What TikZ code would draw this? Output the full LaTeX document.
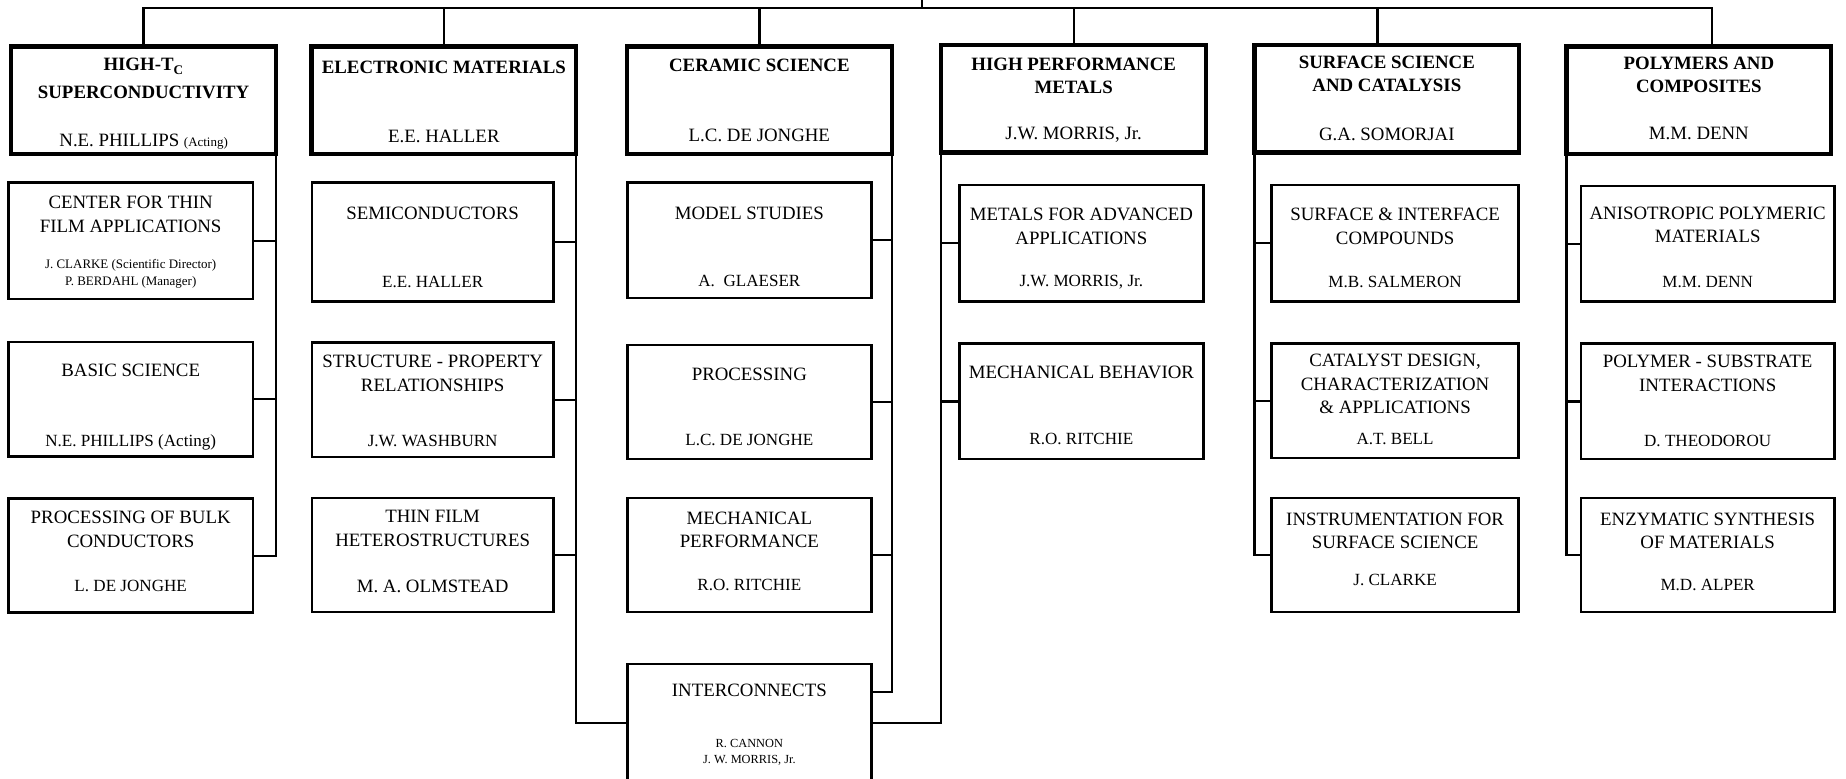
\documentclass[tikz,border=0pt]{standalone}
\usepackage{fontspec}
\setmainfont{Liberation Serif}
\usetikzlibrary{positioning}

\begin{document}
\begin{tikzpicture}[
      x=1pt, y=-1pt,
      headbox/.style={
        draw, line width=3.6pt, inner sep=0pt, outer sep=0pt,
        minimum width=225pt, minimum height=91pt
      },
      subbox/.style={
        draw, line width=2.2pt, inner sep=0pt, outer sep=0pt,
        minimum height=97pt
      },
      link/.style={line width=2pt},
      headtitle/.style={font=\bfseries\fontsize{16}{20}\selectfont, align=center, inner sep=0pt},
      headname/.style={font=\fontsize{16}{20}\selectfont, align=center, inner sep=0pt},
      subtitle/.style={font=\fontsize{16}{20}\selectfont, align=center, inner sep=0pt},
      subname/.style={font=\fontsize{14.5}{17}\selectfont, align=center, inner sep=0pt},
      smallname/.style={font=\fontsize{11}{14}\selectfont, align=center, inner sep=0pt}
    ]
      \useasboundingbox (0,0) rectangle (1568,661);
      \clip (0,0) rectangle (1568,661);

      % division heads
      \node[headbox] (htc)  at (122,85)  {};
      \node[headbox] (elec) at (377,85)  {};
      \node[headbox] (cer)  at (645,85)  {};
      \node[headbox] (hpm)  at (912,84)  {};
      \node[headbox] (surf) at (1178,84) {};
      \node[headbox] (poly) at (1443,85) {};

      \node[headtitle, below=10pt of htc.north] (htcT) {HIGH-T\textsubscript{C}\\[3pt]SUPERCONDUCTIVITY};
      \node[headname, above=3.5pt of htc.south] (htcN) {N.E. PHILLIPS {\fontsize{11}{13}\selectfont (Acting)}};
      \node[headtitle, below=12pt of elec.north] (elecT) {ELECTRONIC MATERIALS};
      \node[headname, above=9pt of elec.south] (elecN) {E.E. HALLER};
      \node[headtitle, below=10.5pt of cer.north] (cerT) {CERAMIC SCIENCE};
      \node[headname, above=10pt of cer.south] (cerN) {L.C. DE JONGHE};
      \node[headtitle, below=10.5pt of hpm.north] (hpmT) {HIGH PERFORMANCE\\METALS};
      \node[headname, above=8pt of hpm.south] (hpmN) {J.W. MORRIS, Jr.};
      \node[headtitle, below=8.5pt of surf.north] (surfT) {SURFACE SCIENCE\\AND CATALYSIS};
      \node[headname, above=10pt of surf.south] (surfN) {G.A. SOMORJAI};
      \node[headtitle, below=8.5pt of poly.north] (polyT) {POLYMERS AND\\COMPOSITES};
      \node[headname, above=11.5pt of poly.south] (polyN) {M.M. DENN};

      % High-Tc groups
      \node[subbox, minimum width=208pt, minimum height=99pt] (thinapp) at (111,204.5) {};
      \node[subbox, minimum width=208pt] (basic) at (111,339) {};
      \node[subbox, minimum width=208pt] (bulk)  at (111,472) {};
      \node[subtitle, below=11.5pt of thinapp.north] (thinappT) {CENTER FOR THIN\\FILM APPLICATIONS};
      \node[smallname, above=9pt of thinapp.south] (thinappN) {J. CLARKE (Scientific Director)\\P. BERDAHL (Manager)};
      \node[subtitle, below=18.5pt of basic.north] (basicT) {BASIC SCIENCE};
      \node[subname, above=4.5pt of basic.south] (basicN) {N.E. PHILLIPS (Acting)};
      \node[subtitle, below=10.5pt of bulk.north] (bulkT) {PROCESSING OF BULK\\CONDUCTORS};
      \node[subname, above=18pt of bulk.south] (bulkN) {L. DE JONGHE};

      % Electronic materials groups
      \node[subbox, minimum width=205pt, minimum height=101pt] (semi) at (367.5,205.5) {};
      \node[subbox, minimum width=205pt] (struct) at (367.5,339.5) {};
      \node[subbox, minimum width=205pt] (hetero) at (367.5,471.5) {};
      \node[subtitle, below=20.5pt of semi.north] (semiT) {SEMICONDUCTORS};
      \node[subname, above=11pt of semi.south] (semiN) {E.E. HALLER};
      \node[subtitle, below=10.5pt of struct.north] (structT) {STRUCTURE - PROPERTY\\RELATIONSHIPS};
      \node[subname, above=8pt of struct.south] (structN) {J.W. WASHBURN};
      \node[subtitle, below=10.5pt of hetero.north] (heteroT) {THIN FILM\\HETEROSTRUCTURES};
      \node[subname, font=\fontsize{16}{20}\selectfont, above=16.5pt of hetero.south] (heteroN) {M. A. OLMSTEAD};

      % Ceramic science groups
      \node[subbox, minimum width=207pt, minimum height=98pt] (model) at (636.5,204) {};
      \node[subbox, minimum width=207pt] (proc)  at (636.5,341.5) {};
      \node[subbox, minimum width=207pt] (mech)  at (636.5,471.5) {};
      \node[subbox, minimum width=207pt, minimum height=100pt] (inter) at (636.5,614) {};
      \node[subtitle, below=20.5pt of model.north] (modelT) {MODEL STUDIES};
      \node[subname, above=9pt of model.south] (modelN) {A.\ \ GLAESER};
      \node[subtitle, below=19.5pt of proc.north] (procT) {PROCESSING};
      \node[subname, above=11pt of proc.south] (procN) {L.C. DE JONGHE};
      \node[subtitle, below=11.5pt of mech.north] (mechT) {MECHANICAL\\PERFORMANCE};
      \node[subname, above=18pt of mech.south] (mechN) {R.O. RITCHIE};
      \node[subtitle, below=16.5pt of inter.north] (interT) {INTERCONNECTS};
      \node[smallname, font=\fontsize{10.5}{13}\selectfont, above=14pt of inter.south] (interN) {R. CANNON\\J. W. MORRIS, Jr.};

      % High performance metals groups
      \node[subbox, minimum width=207pt, minimum height=99pt] (metadv) at (918.5,206.5) {};
      \node[subbox, minimum width=207pt, minimum height=98pt] (mechbeh) at (918.5,341) {};
      \node[subtitle, below=19.5pt of metadv.north] (metadvT) {METALS FOR ADVANCED\\APPLICATIONS};
      \node[subname, above=10pt of metadv.south] (metadvN) {J.W. MORRIS, Jr.};
      \node[subtitle, below=18.5pt of mechbeh.north] (mechbehT) {MECHANICAL BEHAVIOR};
      \node[subname, above=12pt of mechbeh.south] (mechbehN) {R.O. RITCHIE};

      % Surface science groups
      \node[subbox, minimum width=210pt, minimum height=99pt] (si) at (1185,206.5) {};
      \node[subbox, minimum width=210pt] (cat)   at (1185,340.5) {};
      \node[subbox, minimum width=210pt] (instr) at (1185,471.5) {};
      \node[subtitle, below=19.5pt of si.north] (siT) {SURFACE \& INTERFACE\\COMPOUNDS};
      \node[subname, above=11pt of si.south] (siN) {M.B. SALMERON};
      \node[subtitle, below=8.5pt of cat.north] (catT) {CATALYST DESIGN,\\CHARACTERIZATION\\\& APPLICATIONS};
      \node[subname, above=11pt of cat.south] (catN) {A.T. BELL};
      \node[subtitle, below=12.5pt of instr.north] (instrT) {INSTRUMENTATION FOR\\SURFACE SCIENCE};
      \node[subname, above=22pt of instr.south] (instrN) {J. CLARKE};

      % Polymers groups
      \node[subbox, minimum width=215pt, minimum height=98pt] (aniso) at (1450.5,207) {};
      \node[subbox, minimum width=215pt, minimum height=98pt] (polsub) at (1450.5,341) {};
      \node[subbox, minimum width=215pt] (enz) at (1450.5,471.5) {};
      \node[subtitle, below=17.5pt of aniso.north] (anisoT) {ANISOTROPIC POLYMERIC\\MATERIALS};
      \node[subname, above=11pt of aniso.south] (anisoN) {M.M. DENN};
      \node[subtitle, below=9.5pt of polsub.north] (polsubT) {POLYMER - SUBSTRATE\\INTERACTIONS};
      \node[subname, above=10pt of polsub.south] (polsubN) {D. THEODOROU};
      \node[subtitle, below=12.5pt of enz.north] (enzT) {ENZYMATIC SYNTHESIS\\OF MATERIALS};
      \node[subname, above=18pt of enz.south] (enzN) {M.D. ALPER};

      % top bar
      \coordinate (root) at (783,0);
      \coordinate (bar) at (0,7);
      \coordinate (surftop) at ([xshift=-8pt]surf.north);
      \coordinate (polytop) at ([xshift=11pt]poly.north);
      \draw[link] (root) -- (root |- bar);
      \draw[link] (htc.north) |- (polytop |- bar) -- (polytop);
      \draw[link] (elec.north) -- (elec.north |- bar);
      \draw[link] (cer.north) -- (cer.north |- bar);
      \draw[link] (hpm.north) -- (hpm.north |- bar);
      \draw[link] (surftop) -- (surftop |- bar);

      % spines
      \draw[link] (htc.south east) |- (bulk.east);
      \foreach \b in {thinapp, basic}
        \draw[link] (\b.east) -- (\b.east -| htc.east);
      \draw[link] (elec.south east) |- (inter.west);
      \foreach \b in {semi, struct, hetero}
        \draw[link] (\b.east) -- (\b.east -| elec.east);
      \draw[link] (cer.south east) |- ([yshift=26pt]inter.east);
      \foreach \b in {model, proc, mech}
        \draw[link] (\b.east) -- (\b.east -| cer.east);
      \draw[link] (hpm.south west) |- (inter.east);
      \foreach \b in {metadv, mechbeh}
        \draw[link] (\b.west) -- (\b.west -| hpm.west);
      \draw[link] (surf.south west) |- (instr.west);
      \foreach \b in {si, cat}
        \draw[link] (\b.west) -- (\b.west -| surf.west);
      \draw[link] (poly.south west) |- (enz.west);
      \foreach \b in {aniso, polsub}
        \draw[link] (\b.west) -- (\b.west -| poly.west);
    \end{tikzpicture}
\end{document}
